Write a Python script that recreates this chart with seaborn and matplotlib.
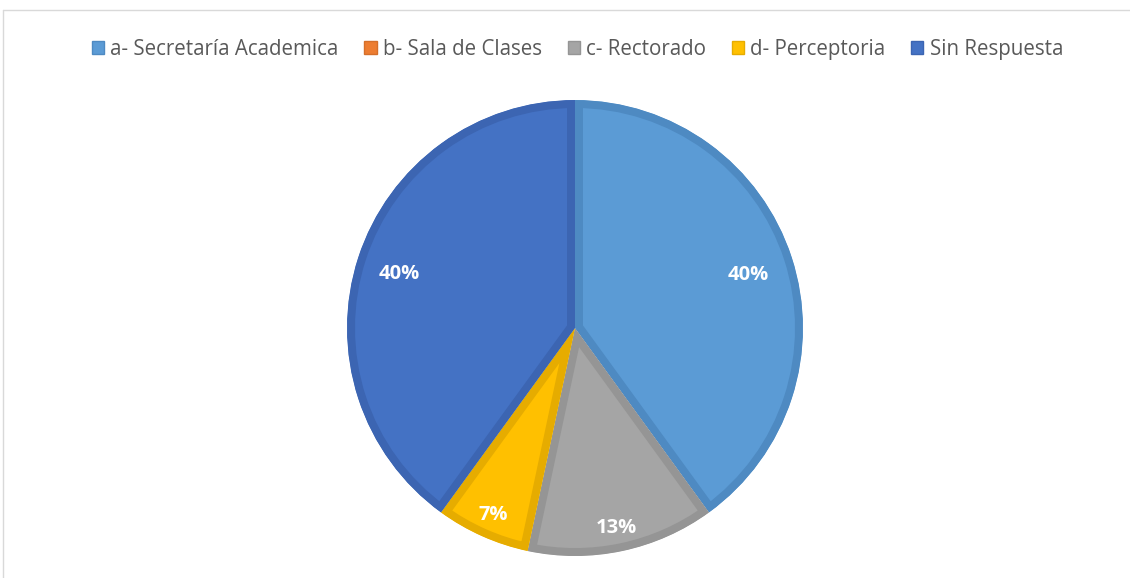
import numpy as np
import matplotlib.pyplot as plt
from matplotlib.patches import Patch
from matplotlib.lines import Line2D
import seaborn as sns

# data
categories = ['a- Secretaría Academica', 'b- Sala de Clases', 'c- Rectorado',
              'd- Perceptoria', 'Sin Respuesta']
counts = [6, 0, 2, 1, 6]

# styling
fill_colors = ['#5B9BD5', '#ED7D31', '#A5A5A5', '#FFC000', '#4472C4']
edge_colors = ['#4E8AC2', '#D56F2A', '#959595', '#E6AC00', '#3C65B2']
label_dist = [0.80, 0.0, 0.88, 0.88, 0.81]

sns.set_theme(style="white")
plt.rcParams['font.family'] = ['Open Sans', 'DejaVu Sans']

fig = plt.figure(figsize=(11.3, 5.78), dpi=100)
ax = fig.add_axes([0.3071, 0.038, 0.4035, 0.789])

wedges, _ = ax.pie(counts, colors=fill_colors, startangle=90, counterclock=False,
                   radius=1.0)
ax.set_xlim(-1, 1)
ax.set_ylim(-1, 1)
ax.set_aspect('equal')

# inner border: stroke twice as wide, clipped to the wedge itself
for w, ec, v in zip(wedges, edge_colors, counts):
    if v == 0:
        w.set_visible(False)
        continue
    w.set_edgecolor(ec)
    w.set_linewidth(11.5)
    w.set_clip_on(True)
    w.set_clip_path(w)

# percentage labels
total = sum(counts)
for w, v, d in zip(wedges, counts, label_dist):
    if v == 0:
        continue
    ang = np.deg2rad((w.theta1 + w.theta2) / 2)
    ax.text(d * np.cos(ang), d * np.sin(ang) - 0.015, f"{v / total:.0%}",
            ha='center', va='center', color='white', fontsize=14.5,
            fontweight='bold')

# legend
handles = [Patch(facecolor=f, edgecolor=e, linewidth=1) for f, e in zip(fill_colors, edge_colors)]
fig.legend(handles, categories, loc='center', bbox_to_anchor=(0.511, 0.914), ncol=5,
           frameon=False, fontsize=14.8, labelcolor='#595959',
           handlelength=0.6, handleheight=0.6, handletextpad=0.3,
           columnspacing=1.25)

# chart area border
fig.add_artist(Line2D([3 / 1130, 1], [1 - 10 / 578, 1 - 10 / 578],
                      transform=fig.transFigure, color='#D9D9D9', lw=1))
fig.add_artist(Line2D([3 / 1130, 3 / 1130], [0, 1 - 10 / 578],
                      transform=fig.transFigure, color='#D9D9D9', lw=1))

fig.savefig('out.png', dpi=100)
